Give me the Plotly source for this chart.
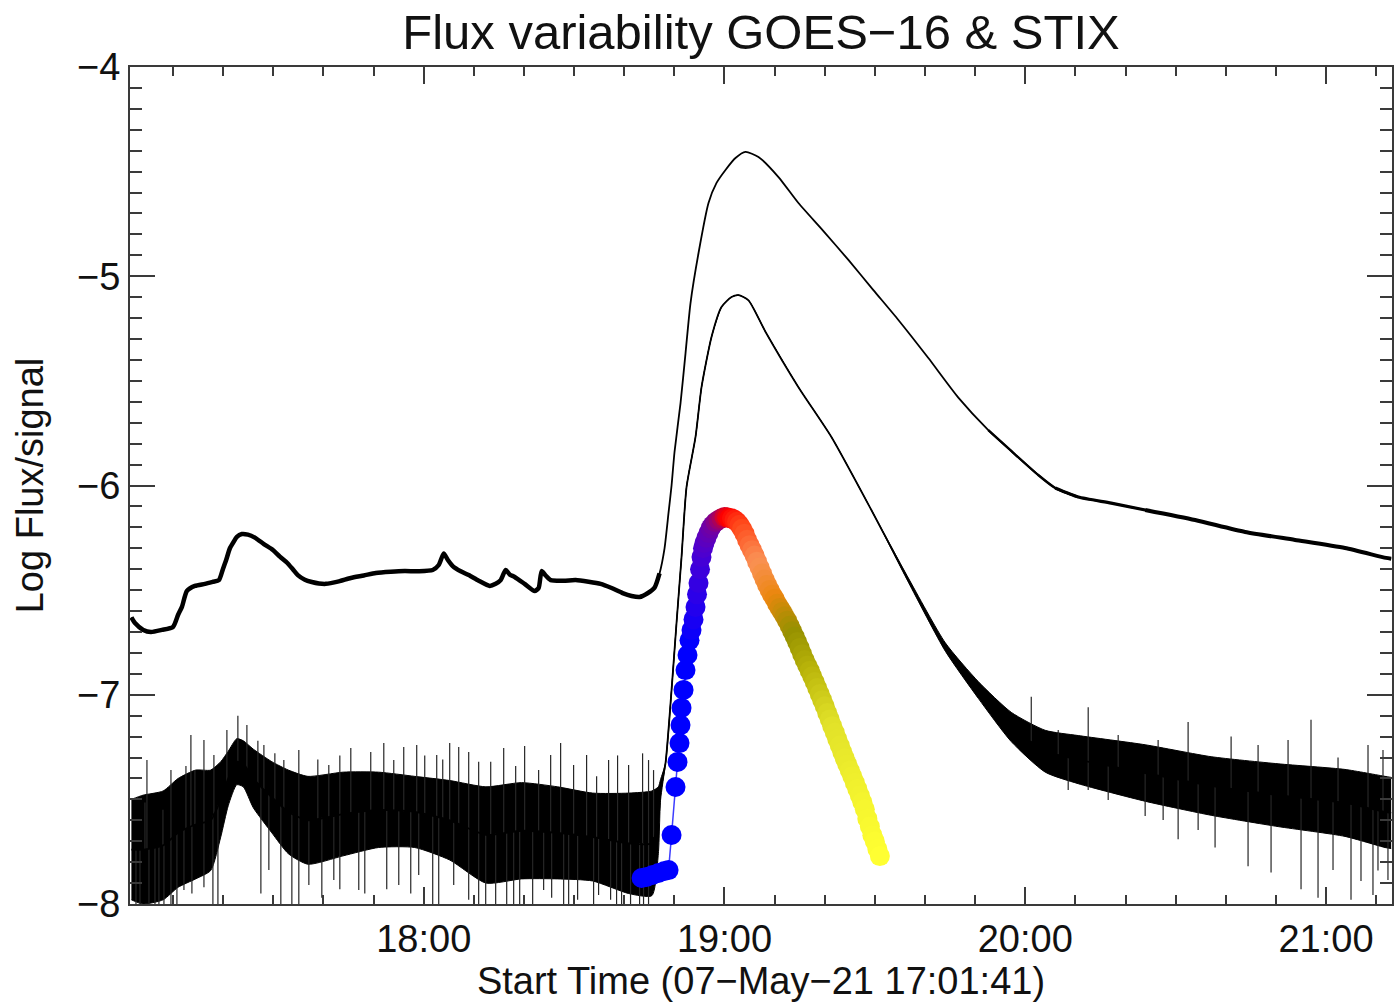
import numpy as np
import pandas as pd
import plotly.graph_objects as go

BASE = pd.Timestamp("2021-05-07 17:00:00")

# ---------------- GOES long channel (upper curve): minutes after 17:00, log flux
long_t = [1.68, 2.39, 4.05, 5.58, 7.77, 9.97, 10.96, 11.76, 12.76, 14.35, 16.35, 17.94,
          19.14, 19.93, 20.53, 21.33, 21.93, 22.72, 23.72, 24.92, 26.31, 28.11, 29.90,
          31.30, 32.69, 33.89, 34.88, 36.28, 37.67, 39.07, 40.47, 43.06, 45.45, 48.04,
          50.43, 53.42, 56.21, 59.00, 61.79, 62.99, 63.99, 64.78, 65.78, 67.38, 68.97,
          70.96, 73.16, 74.35, 75.35, 76.35, 77.14, 78.14, 80.13, 82.13, 82.92, 83.52,
          84.32, 85.32, 87.91, 90.30, 92.89, 95.28, 97.48, 99.67, 101.46, 103.06, 104.65,
          106.05, 107.04, 108.04, 108.84, 109.44, 110.03, 111.23, 112.23, 113.22, 114.82,
          116.81, 118.41, 120.20, 122.19, 124.19, 126.78, 130.77, 134.75, 139.74, 144.72,
          149.70, 154.69, 160.67, 166.65, 172.63, 177.21, 182.59, 185.98, 190.57, 197.15,
          203.92, 213.89, 223.86, 233.82, 243.79, 251.97, 253.0]
long_v = [-6.63, -6.657, -6.69, -6.70, -6.69, -6.676, -6.62, -6.58, -6.504, -6.48, -6.47, -6.46,
          -6.452, -6.40, -6.36, -6.30, -6.275, -6.245, -6.232, -6.235, -6.249, -6.28, -6.308,
          -6.34, -6.368, -6.40, -6.428, -6.45, -6.461, -6.468, -6.47, -6.458, -6.442, -6.43,
          -6.418, -6.412, -6.409, -6.41, -6.404, -6.38, -6.325, -6.355, -6.385, -6.41, -6.428,
          -6.455, -6.48, -6.47, -6.452, -6.404, -6.425, -6.437, -6.47, -6.504, -6.49, -6.409,
          -6.43, -6.452, -6.455, -6.452, -6.46, -6.47, -6.49, -6.514, -6.528, -6.533, -6.515,
          -6.488, -6.42, -6.30, -6.13, -6.0, -5.84, -5.606, -5.367, -5.128, -4.889,
          -4.650, -4.554, -4.492, -4.435, -4.406, -4.43, -4.526, -4.65, -4.784, -4.922,
          -5.066, -5.209, -5.391, -5.580, -5.735, -5.835, -5.950, -6.012, -6.055, -6.084,
          -6.117, -6.165, -6.222, -6.260, -6.299, -6.346, -6.35]

# ---------------- GOES short channel (lower curve): centre and noise half-width
short_t = [1.68, 4.0, 8.0, 11.0, 14.5, 17.5, 19.5, 21.0, 22.7, 24.0, 26.0, 29.7, 33.0,
           36.9, 43.9, 51.0, 58.2, 65.2, 72.4, 79.5, 86.7, 93.7, 100.9, 105.5, 106.8,
           107.24, 108.24, 109.44, 110.43, 111.43, 112.43, 114.22, 115.42, 117.41, 119.40,
           121.40, 122.79, 124.79, 128.17, 134.75, 141.33, 149.30, 156.68, 164.06, 170.63,
           177.21, 183.99, 190.57, 203.92, 217.08, 230.44, 243.79, 251.77, 253.0]
short_v = [-7.74, -7.74, -7.72, -7.66, -7.62, -7.60, -7.50, -7.40, -7.32, -7.33, -7.40, -7.49, -7.56,
           -7.60, -7.57, -7.55, -7.56, -7.60, -7.67, -7.65, -7.66, -7.68, -7.71, -7.71, -7.60,
           -7.455, -7.326, -6.977, -6.657, -6.342, -6.007, -5.768, -5.53, -5.29, -5.147,
           -5.099, -5.090, -5.115, -5.265, -5.53, -5.768, -6.117, -6.452, -6.772, -6.977,
           -7.154, -7.27, -7.31, -7.374, -7.436, -7.48, -7.517, -7.56, -7.565]
short_noise = [0.24, 0.26, 0.26, 0.26, 0.26, 0.24, 0.18, 0.13, 0.11, 0.11, 0.14, 0.17, 0.20,
               0.21, 0.20, 0.18, 0.17, 0.19, 0.23, 0.23, 0.22, 0.21, 0.24, 0.25, 0.16,
               0.05, 0.0, 0.0, 0.0, 0.0, 0.0, 0.0, 0.0, 0.0, 0.0,
               0.0, 0.0, 0.0, 0.0, 0.0, 0.0, 0.0, 0.01, 0.02, 0.04,
               0.07, 0.10, 0.115, 0.135, 0.14, 0.15, 0.16, 0.17, 0.17]

# isolated spikes of the short channel (time, tip value)
spike_t = [4.38, 7.97, 12.56, 14.35, 22.92, 26.91, 30.30, 38.87, 43.26, 52.03, 56.01, 60.20,
           63.79, 65.18, 66.98, 70.96, 78.34, 80.13, 87.31, 94.49, 98.67, 103.66, 105.85,
           4.78, 9.57, 13.55, 16.15, 18.14, 20.73, 24.72, 28.11, 32.09, 35.08, 41.06, 45.45,
           49.43, 54.02, 58.60, 62.59, 68.97, 73.36, 75.95, 82.92, 85.32, 89.90, 92.49,
           96.88, 100.87, 104.85,
           2.59, 3.39, 5.18, 6.38, 8.17, 9.57, 10.76, 13.75, 16.15, 17.94, 18.94, 27.51,
           31.49, 33.69, 35.08, 39.67, 43.26, 48.24, 52.62, 57.41, 61.79, 62.99, 68.97,
           72.36, 74.35, 76.55, 79.14, 81.73, 85.52, 87.91, 90.70, 93.89, 97.28, 99.47,
           101.26, 103.06, 104.85,
           7.17, 12.16, 29.10, 37.08, 42.06, 47.04, 55.02, 59.00, 65.98, 70.96, 77.94,
           83.92, 88.91, 94.88, 98.47, 103.85,
           181.20, 192.56, 212.49, 221.07, 237.01, 242.40, 186.58, 198.54, 206.51, 226.45,
           232.43, 248.38, 251.37,
           192.56, 203.92, 210.50, 217.87, 224.45, 229.04, 235.02, 238.41, 244.99, 246.98,
           250.37, 188.57, 196.55, 207.51, 214.49, 241.40, 249.37, 252.36]
spike_tip = [-7.515, -7.55, -7.34, -7.36, -7.10, -7.22, -7.28, -7.31, -7.29, -7.23, -7.25, -7.29,
             -7.31, -7.23, -7.25, -7.32, -7.34, -7.245, -7.23, -7.39, -7.29, -7.28, -7.36,
             -7.312, -7.36, -7.192, -7.216, -7.288, -7.168, -7.145, -7.24, -7.312, -7.264,
             -7.336, -7.254, -7.274, -7.312, -7.24, -7.288, -7.274, -7.32, -7.254, -7.36,
             -7.288, -7.336, -7.288, -7.312, -7.336, -7.312,
             -8.05, -8.05, -8.05, -8.05, -8.05, -8.05, -8.05, -7.95, -7.92, -8.05, -8.05, -7.95,
             -8.05, -8.05, -8.0, -7.97, -7.93, -7.95, -7.93, -7.95, -8.05, -8.05, -7.98,
             -8.05, -8.05, -8.05, -8.05, -8.05, -7.97, -8.05, -7.98, -8.05, -7.98, -8.05,
             -8.05, -8.05, -8.05,
             -8.05, -7.933, -7.838, -7.909, -7.885, -7.933, -7.909, -7.861, -7.909, -8.05,
             -8.05, -7.933, -8.05, -7.957, -8.05, -8.05,
             -7.01, -7.06, -7.13, -7.20, -7.12, -7.30, -7.168, -7.192, -7.216, -7.24,
             -7.216, -7.24, -7.264,
             -7.455, -7.58, -7.69, -7.73, -7.82, -7.85, -7.93, -7.97, -7.98, -7.89,
             -7.84, -7.455, -7.503, -7.599, -7.646, -7.838, -7.957, -7.885]

# ---------------- STIX signal (coloured markers)
stix_t = [103.46, 104.45, 105.65, 106.84, 108.04, 108.84, 109.44, 110.23, 110.63, 111.03,
          111.23, 111.43, 111.83, 112.22, 112.62, 113.02, 113.42, 113.82, 114.22, 114.52,
          114.82, 115.12, 115.41, 115.71, 116.0, 116.4, 116.8, 117.2, 117.6, 118.2, 118.8,
          119.4, 120.0,
          120.5, 121.0, 121.5, 122.0, 122.5, 123.0, 123.5, 124.0, 124.5, 125.0, 125.5, 126.0,
          126.5, 127.0, 127.5, 128.0, 128.5, 129.0, 129.5, 130.0, 130.5, 131.0, 131.5, 132.0,
          132.5, 133.0, 133.5, 134.0, 134.5, 135.0, 135.5, 136.0, 136.5, 137.0, 137.5, 138.0,
          138.5, 139.0, 139.5, 140.0, 140.5, 141.0, 141.5, 142.0, 142.5, 143.0, 143.5, 144.0,
          144.5, 145.0, 145.5, 146.0, 146.5, 147.0, 147.5, 148.0, 148.5, 149.0, 149.5, 150.0,
          150.5, 151.0]
stix_v = [-7.876, -7.871, -7.861, -7.852, -7.842, -7.838, -7.670, -7.441, -7.321, -7.231,
          -7.145, -7.063, -6.977, -6.882, -6.81, -6.74, -6.691, -6.64, -6.581, -6.52,
          -6.466, -6.40, -6.342, -6.30, -6.275, -6.25, -6.227, -6.205, -6.19, -6.175, -6.165,
          -6.157, -6.151,
          -6.152, -6.156, -6.158, -6.164, -6.173, -6.188, -6.207, -6.230, -6.259, -6.285,
          -6.309, -6.335, -6.364, -6.392, -6.421, -6.449, -6.475, -6.499, -6.522, -6.541,
          -6.565, -6.585, -6.604, -6.625, -6.646, -6.670, -6.696, -6.722, -6.748, -6.776,
          -6.806, -6.834, -6.860, -6.885, -6.912, -6.939, -6.968, -6.997, -7.026, -7.055,
          -7.087, -7.118, -7.150, -7.181, -7.212, -7.243, -7.274, -7.304, -7.333, -7.362,
          -7.390, -7.420, -7.450, -7.482, -7.513, -7.547, -7.592, -7.630, -7.671, -7.701,
          -7.737, -7.771]

# colour table of the STIX markers (fraction of time span, colour)
stix_colorscale = [
    [0.0, "rgb(0,0,255)"], [0.20, "rgb(0,0,255)"], [0.23, "rgb(40,0,235)"],
    [0.26, "rgb(80,0,205)"], [0.30, "rgb(115,0,160)"], [0.335, "rgb(170,0,90)"],
    [0.356, "rgb(230,0,20)"], [0.37, "rgb(255,0,0)"],
    [0.42, "rgb(255,70,25)"], [0.49, "rgb(250,145,85)"], [0.56, "rgb(235,135,15)"],
    [0.64, "rgb(150,145,0)"], [0.71, "rgb(185,180,10)"], [0.80, "rgb(225,225,40)"],
    [1.0, "rgb(255,255,50)"]]

TITLE = "Flux variability GOES\u221216 & STIX"
XTITLE = "Start Time (07\u2212May\u221221 17:01:41)"
YTITLE = "Log Flux/signal"


def to_time(minutes):
    return BASE + pd.to_timedelta(np.asarray(minutes, dtype=float), unit="min")


FONT = "Liberation Sans, Arial, Helvetica, sans-serif"
AX = "#3a3a3a"
SPL = dict(shape="spline", smoothing=0.6)

fig = go.Figure()

# short channel noise band
st = np.asarray(short_t)
sv = np.asarray(short_v)
sn = np.asarray(short_noise)
tx = to_time(st)
fig.add_trace(go.Scatter(x=tx, y=sv + sn, mode="lines", line=dict(color="black", width=1, **SPL),
                         hoverinfo="skip"))
fig.add_trace(go.Scatter(x=tx, y=sv - sn, mode="lines", line=dict(color="black", width=1, **SPL),
                         fill="tonexty", fillcolor="black", hoverinfo="skip"))

# spikes
base = np.interp(spike_t, st, sv)
xs, ys = [], []
for t, b, tip in zip(to_time(spike_t), base, spike_tip):
    xs += [t, t, None]
    ys += [b, tip, None]
fig.add_trace(go.Scatter(x=xs, y=ys, mode="lines", line=dict(color="#262626", width=1.2),
                         hoverinfo="skip"))

# short channel centre line
fig.add_trace(go.Scatter(x=tx, y=sv, mode="lines", line=dict(color="black", width=1.8, **SPL),
                         hoverinfo="skip"))

# long channel (thicker where the signal is noisy)
lt = np.asarray(long_t)
lv = np.asarray(long_v)
fig.add_trace(go.Scatter(x=to_time(lt), y=lv, mode="lines",
                         line=dict(color="black", width=1.8, **SPL), hoverinfo="skip"))
for mask, w in ((lt <= 107.1, 4.5), ((lt >= 172) & (lt <= 191), 2.4),
                ((lt >= 185) & (lt <= 205), 3.2), (lt >= 203, 4.0)):
    fig.add_trace(go.Scatter(x=to_time(lt[mask]), y=lv[mask], mode="lines",
                             line=dict(color="black", width=w, **SPL), hoverinfo="skip"))

# STIX
fig.add_trace(go.Scatter(
    x=to_time(stix_t), y=stix_v, mode="lines+markers",
    line=dict(color="rgb(60,60,255)", width=1.5),
    marker=dict(size=20, color=stix_t, colorscale=stix_colorscale,
                cmin=min(stix_t), cmax=max(stix_t), line=dict(width=0), showscale=False),
    hoverinfo="skip"))

fig.update_layout(
    width=1396, height=1005,
    margin=dict(l=130, r=2, t=67, b=101),
    paper_bgcolor="white", plot_bgcolor="white",
    showlegend=False,
    font=dict(family=FONT, size=38, color="#111"),
    title=dict(text=TITLE, x=0.5, xref="paper", y=1 - 32 / 1005, yref="container",
               xanchor="center", yanchor="middle", font=dict(size=49, family=FONT, color="#111")),
)
fig.update_xaxes(
    type="date",
    range=["2021-05-07 17:01:24", "2021-05-07 21:13:10"],
    tick0="2021-05-07 17:00:00", dtick=3600000, tickformat="%H:%M",
    ticks="inside", ticklen=17, tickwidth=1.5, tickcolor=AX,
    minor=dict(dtick=600000, tick0="2021-05-07 17:00:00", ticks="inside", ticklen=9,
               tickwidth=1.5, tickcolor=AX, showgrid=False),
    showline=True, linecolor=AX, linewidth=2, mirror="allticks",
    showgrid=False, zeroline=False,
    title=dict(text=XTITLE, standoff=6, font=dict(size=38, family=FONT, color="#111")),
    tickfont=dict(size=38, family=FONT, color="#111"),
)
fig.update_yaxes(
    range=[-8, -4], tick0=0, dtick=1,
    ticks="inside", ticklen=25, tickwidth=1.5, tickcolor=AX,
    minor=dict(dtick=0.1, tick0=0, ticks="inside", ticklen=12, tickwidth=1.5,
               tickcolor=AX, showgrid=False),
    showline=True, linecolor=AX, linewidth=2, mirror="allticks",
    showgrid=False, zeroline=False,
    title=dict(text=YTITLE, standoff=22, font=dict(size=38, family=FONT, color="#111")),
    tickfont=dict(size=38, family=FONT, color="#111"),
)

fig.write_html("out.html", config={"displayModeBar": False})
